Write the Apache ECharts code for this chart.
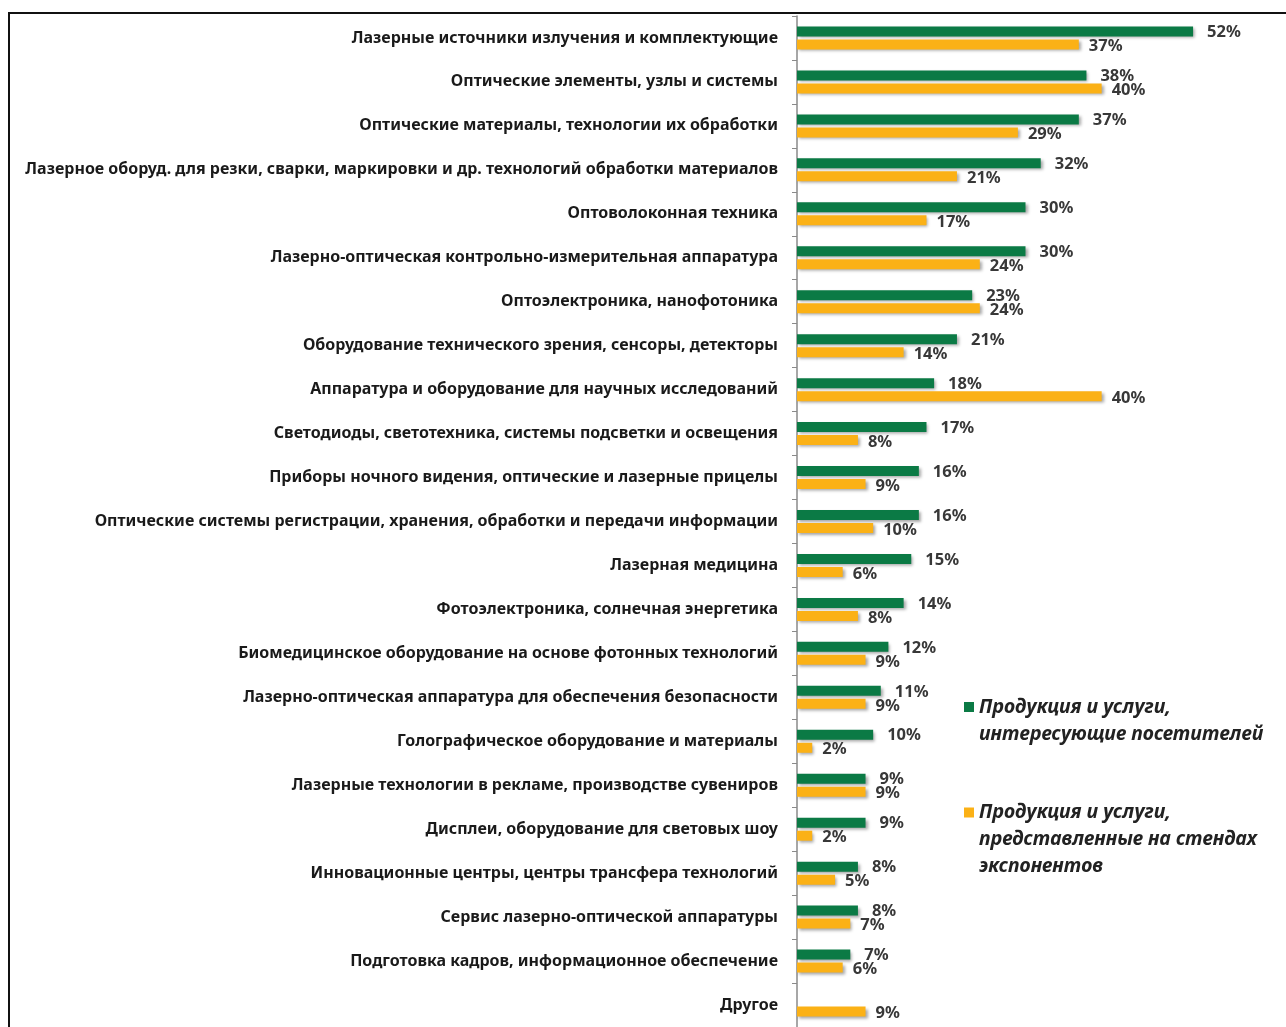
<!DOCTYPE html>
<html>
<head>
<meta charset="utf-8">
<script src="https://cdn.jsdelivr.net/npm/echarts@6/dist/echarts.min.js"></script>
<style>
  html, body { margin: 0; padding: 0; background: #fff; }
  #wrap { position: relative; width: 1286px; height: 1027px; overflow: hidden; }
  #frame { position: absolute; left: 8px; top: 12px; right: -4px; bottom: -4px; border-left: 2px solid #111; border-top: 2px solid #111; pointer-events: none; }
  #chart { position: absolute; left: 0; top: 0; width: 1286px; height: 1027px; }
</style>
</head>
<body>
<div id="wrap">
  <div id="chart"></div>
  <div id="frame"></div>
</div>
<script>
const categories = [
  'Лазерные источники излучения и комплектующие',
  'Оптические элементы, узлы и системы',
  'Оптические материалы, технологии их обработки',
  'Лазерное оборуд. для резки, сварки, маркировки и др. технологий обработки материалов',
  'Оптоволоконная техника',
  'Лазерно-оптическая контрольно-измерительная аппаратура',
  'Оптоэлектроника, нанофотоника',
  'Оборудование технического зрения, сенсоры, детекторы',
  'Аппаратура и оборудование для научных исследований',
  'Светодиоды, светотехника, системы подсветки и освещения',
  'Приборы ночного видения, оптические и лазерные прицелы',
  'Оптические системы регистрации, хранения, обработки и передачи информации',
  'Лазерная медицина',
  'Фотоэлектроника, солнечная энергетика',
  'Биомедицинское оборудование на основе фотонных технологий',
  'Лазерно-оптическая аппаратура для обеспечения безопасности',
  'Голографическое оборудование и материалы',
  'Лазерные технологии в рекламе, производстве сувениров',
  'Дисплеи, оборудование для световых шоу',
  'Инновационные центры, центры трансфера технологий',
  'Сервис лазерно-оптической аппаратуры',
  'Подготовка кадров, информационное обеспечение',
  'Другое'
];
const visitorsInterest = [52, 38, 37, 32, 30, 30, 23, 21, 18, 17, 16, 16, 15, 14, 12, 11, 10, 9, 9, 8, 8, 7, '-'];
const exhibitorsOffer  = [37, 40, 29, 21, 17, 24, 24, 14, 40, 8, 9, 10, 6, 8, 9, 9, 2, 9, 2, 5, 7, 6, 9];
const seriesNames = [
  'Продукция и услуги,\nинтересующие посетителей',
  'Продукция и услуги,\nпредставленные на стендах\nэкспонентов'
];
const colors = ['#0B7A45', '#FBB116'];

const chart = echarts.init(document.getElementById('chart'), null, { renderer: 'canvas' });

const legendText = {
  fontFamily: 'Noto Sans',
  fontSize: 19.5,
  fontStyle: 'italic',
  fontWeight: 'bold',
  color: '#222',
  lineHeight: 27
};
const labelStyle = {
  show: true,
  position: 'right',
  formatter: '{c}%',
  fontFamily: 'Noto Sans',
  fontSize: 16.5,
  fontWeight: 'bold',
  color: '#383838'
};
const shadow = {
  shadowColor: 'rgba(0,0,0,0.35)',
  shadowBlur: 3,
  shadowOffsetX: 2,
  shadowOffsetY: 2
};
// blank leading lines so the marker sits beside the first text line
function padLines(name) {
  const n = name.split('\n').length - 1;
  return ' \n'.repeat(n) + name;
}

chart.setOption({
  animation: false,
  backgroundColor: '#fff',
  color: colors,
  grid: { left: 797, top: 16, width: 457, height: 1013, containLabel: false },
  legend: [
    {
      left: 964, top: 666.5, padding: 0, itemWidth: 10, itemHeight: 10,
      selectedMode: false, icon: 'rect',
      data: [seriesNames[0]],
      formatter: padLines,
      textStyle: legendText
    },
    {
      left: 964, top: 745, padding: 0, itemWidth: 10, itemHeight: 10,
      selectedMode: false, icon: 'rect',
      data: [seriesNames[1]],
      formatter: padLines,
      textStyle: legendText
    }
  ],
  xAxis: {
    type: 'value', min: 0, max: 60,
    show: false,
    splitLine: { show: false }
  },
  yAxis: {
    type: 'category',
    data: categories,
    inverse: true,
    axisLine: { show: true, lineStyle: { color: '#8a8a8a', width: 1.5 } },
    axisTick: { show: true, length: 5, inside: false, lineStyle: { color: '#8a8a8a' } },
    axisLabel: {
      margin: 19,
      fontFamily: 'Noto Sans',
      fontSize: 16,
      fontWeight: 'bold',
      color: '#1a1a1a'
    }
  },
  series: [
    {
      name: seriesNames[0],
      type: 'bar',
      data: visitorsInterest,
      barWidth: 10,
      barGap: '30%',
      itemStyle: Object.assign({ color: colors[0] }, shadow),
      label: Object.assign({}, labelStyle, { distance: 14, offset: [0, 1] })
    },
    {
      name: seriesNames[1],
      type: 'bar',
      data: exhibitorsOffer,
      barWidth: 10,
      barGap: '30%',
      itemStyle: Object.assign({ color: colors[1] }, shadow),
      label: Object.assign({}, labelStyle, { distance: 10, offset: [0, 2] })
    }
  ]
});
</script>
</body>
</html>
